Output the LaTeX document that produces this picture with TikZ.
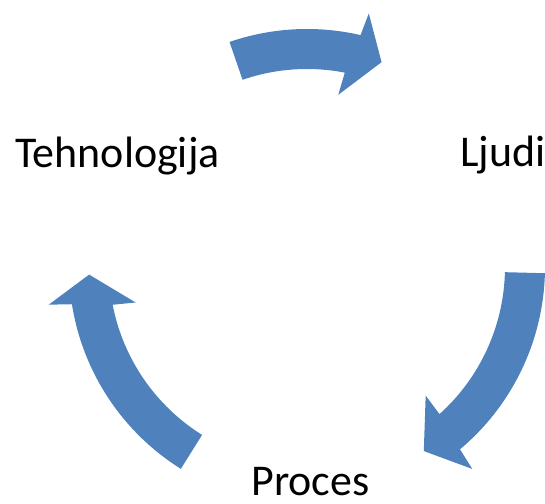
\documentclass[tikz,border=0pt]{standalone}
\usepackage{fontspec}
\setmainfont{Carlito}
\usetikzlibrary{positioning}
\definecolor{cycleblue}{RGB}{79,129,189}

% block arrow on the cycle: tail angle, head base angle, tip angle
\newcommand{\cyclearrow}[3]{%
  \fill[cycleblue] (#1:238) arc[start angle=#1, end angle=#2-1, radius=238]
    -- (#2-1.7:261) -- (#3:218) -- (#2+1.7:175) -- (#2+1:198)
    arc[start angle=#2+1, end angle=#1, radius=198] -- cycle;}

\begin{document}
\begin{tikzpicture}[x=0.02cm, y=0.02cm,
  steplabel/.style={anchor=base, inner sep=0, font=\fontsize{25}{30}\selectfont}]

\useasboundingbox (0,0) rectangle (545,504);

\node[steplabel] (tech) at (117.5,336) {Tehnologija};
\node[steplabel] (ljudi) at (503,337) {Ljudi};
\node[steplabel] (proces) at (310.5,8) {Proces};

\begin{scope}[shift={(307,237)}]
 \cyclearrow{109}{78}{70}
 \cyclearrow{-1.5}{-49}{-57.6}
 \cyclearrow{238}{190}{182}
\end{scope}

\end{tikzpicture}
\end{document}
